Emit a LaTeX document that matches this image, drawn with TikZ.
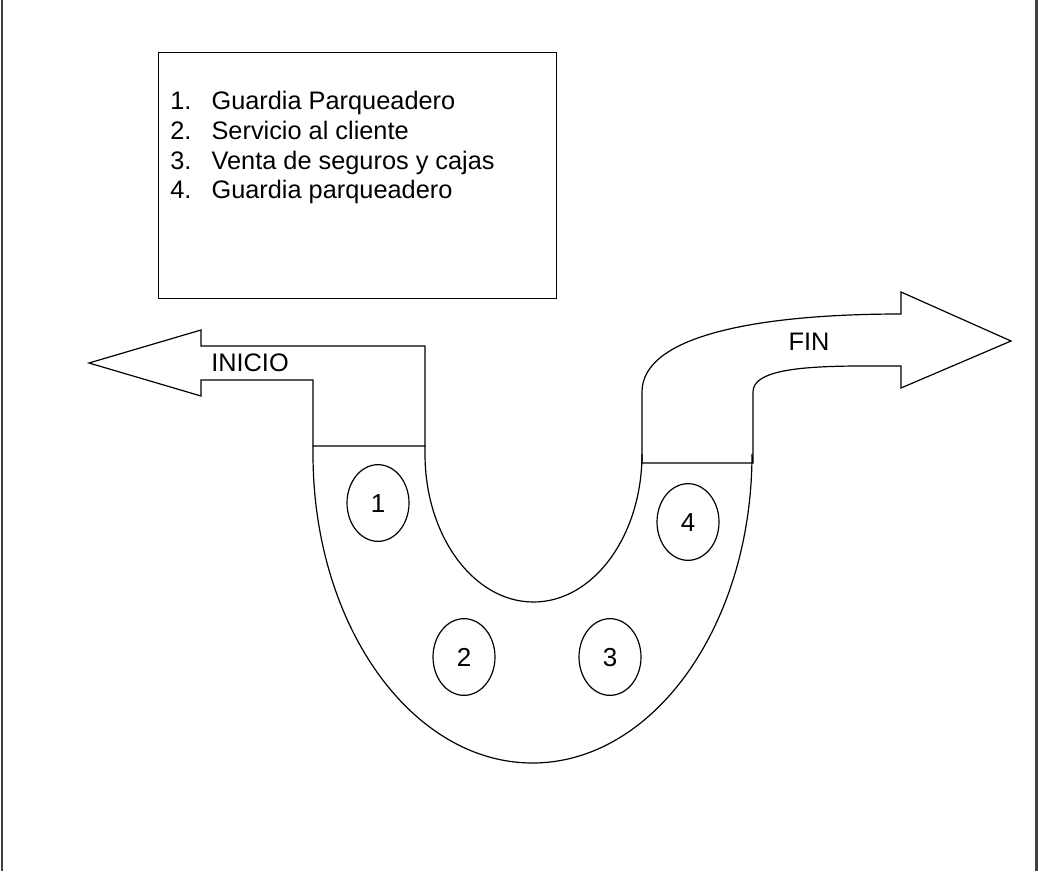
\documentclass[tikz,border=0pt]{standalone}
\usepackage{fontspec}
\setmainfont{Liberation Sans}
\usetikzlibrary{shapes.geometric}
\begin{document}
\begin{tikzpicture}[x=0.75pt,y=-0.75pt,
  outline/.style={draw=black,line width=0.9pt,line join=miter},
  frameline/.style={draw=black!75,line width=1.6pt},
  lbl/.style={font=\fontsize{19pt}{22pt}\selectfont,inner sep=0pt},
  station/.style={draw=black,line width=0.9pt,ellipse,minimum width=46.5pt,minimum height=57.5pt,inner sep=0pt,text height=14pt,text depth=0pt,font=\fontsize{19.5pt}{22pt}\selectfont},
  listline/.style={lbl,anchor=base west}]
% page extent
\useasboundingbox (0,0) rectangle (1038,871);
\fill[white] (0,0) rectangle (1038,871);
% side rules of the page
\draw[frameline] (2,0) -- (2,871);
\draw[frameline] (1036.5,0) -- (1036.5,871);

% legend
\node[outline,draw,minimum width=298.5pt,minimum height=184.5pt,anchor=north west,inner sep=0pt] (legend) at (158,52) {};
\node[listline] (l1) at (170,109) {\makebox[31pt][l]{1.}Guardia Parqueadero};
\node[listline] (l2) at (170,139) {\makebox[31pt][l]{2.}Servicio al cliente};
\node[listline] (l3) at (170,169) {\makebox[31pt][l]{3.}Venta de seguros y cajas};
\node[listline] (l4) at (170,198) {\makebox[31pt][l]{4.}Guardia parqueadero};

% INICIO arrow pointing left
\draw[outline] (89,363) -- (201,330) -- (201,346) -- (425,346) -- (425,446)
  -- (313,446) -- (313,380) -- (201,380) -- (201,396) -- cycle;
\node[lbl] (inicio) at (250,363) {INICIO};

% U-shaped passage
\draw[outline] (313,446) -- (313,454) arc[start angle=180,end angle=360,x radius=219.5,y radius=-309] -- (752.5,463);
\draw[outline] (425,446) -- (425,454) arc[start angle=180,end angle=360,x radius=108.5,y radius=-148] -- (642,463);

% FIN arrow pointing right
\draw[outline] (642,463) -- (642,392) .. controls (642,335) and (760,314) .. (901,314)
  -- (901,292) -- (1011,341) -- (901,388) -- (901,366) -- (862,366)
  .. controls (792,366) and (753,372) .. (753,392) -- (753,463) -- cycle;
\node[lbl] (fin) at (809,342) {FIN};

% stations along the passage
\node[station] (s1) at (378,503) {1};
\node[station] (s2) at (464,657) {2};
\node[station] (s3) at (610,657) {3};
\node[station] (s4) at (688,522) {4};
\end{tikzpicture}
\end{document}
